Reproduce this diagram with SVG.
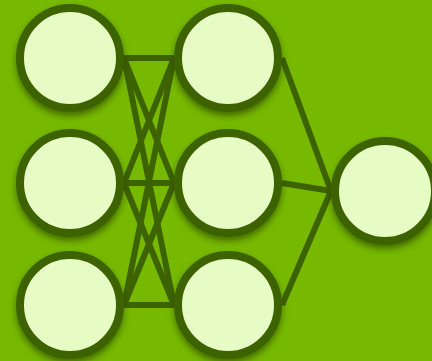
<svg xmlns="http://www.w3.org/2000/svg" width="432" height="361" viewBox="0 0 432 361">
<defs>
<filter id="sh" x="-30%" y="-30%" width="160%" height="170%">
<feDropShadow dx="0" dy="4" stdDeviation="3" flood-color="#1f3300" flood-opacity="0.55"/>
</filter>
<style>
.n{fill:#e6fcc4;stroke:#3d6300;stroke-width:8;filter:url(#sh)}
.c line{stroke:#3d6300;stroke-width:6;stroke-linecap:butt}
</style>
</defs>
<rect width="432" height="361" fill="#76b900"/>
<g class="c" id="connectors">
<line x1="124" y1="58" x2="174" y2="58"/>
<line x1="124" y1="58" x2="174" y2="183"/>
<line x1="124" y1="58" x2="174" y2="305"/>
<line x1="124" y1="183" x2="174" y2="58"/>
<line x1="124" y1="183" x2="174" y2="183"/>
<line x1="124" y1="183" x2="174" y2="305"/>
<line x1="124" y1="305" x2="174" y2="58"/>
<line x1="124" y1="305" x2="174" y2="183"/>
<line x1="124" y1="305" x2="174" y2="305"/>
<line x1="282" y1="58" x2="331" y2="191"/>
<line x1="282" y1="183" x2="331" y2="191"/>
<line x1="282" y1="305" x2="331" y2="191"/>
</g>
<g id="i1"><circle class="n" cx="70" cy="58" r="50"/></g>
<g id="i2"><circle class="n" cx="70" cy="183" r="50"/></g>
<g id="i3"><circle class="n" cx="70" cy="305" r="50"/></g>
<g id="h1"><circle class="n" cx="228" cy="58" r="50"/></g>
<g id="h2"><circle class="n" cx="228" cy="183" r="50"/></g>
<g id="h3"><circle class="n" cx="228" cy="305" r="50"/></g>
<g id="o1"><circle class="n" cx="385" cy="191" r="50"/></g>
</svg>
